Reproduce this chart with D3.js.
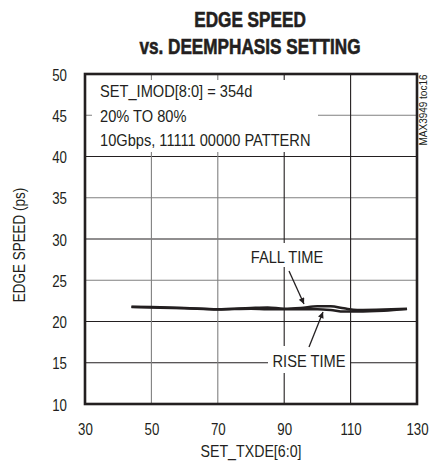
<!DOCTYPE html>
<html>
<head>
<meta charset="utf-8">
<script src="https://cdn.jsdelivr.net/npm/d3@7"></script>
<style>
  body { margin: 0; background: #fff; }
  text { font-family: "Liberation Sans", Arial, sans-serif; fill: #231f20; }
</style>
</head>
<body>
<div id="chart"></div>
<script>
// data
var txde = [44, 50, 60, 70, 80, 85, 90, 95, 100, 104, 108, 112, 120, 127];
var fallTime = [21.8, 21.75, 21.65, 21.5, 21.65, 21.7, 21.55, 21.65, 21.85, 21.85, 21.6, 21.4, 21.45, 21.55];
var riseTime = [21.75, 21.7, 21.6, 21.45, 21.55, 21.5, 21.5, 21.5, 21.5, 21.4, 21.2, 21.2, 21.3, 21.5];
var xTicks = [30, 50, 70, 90, 110, 130];
var yTicks = [10, 15, 20, 25, 30, 35, 40, 45, 50];
var noteLines = ["SET_IMOD[8:0] = 354d", "20% TO 80%", "10Gbps, 11111 00000 PATTERN"];

var W = 429, H = 463;
var pLeft = 85, pRight = 417, pTop = 74, pBottom = 404;
var ink = "#231f20";

var svg = d3.select("#chart").append("svg")
    .attr("width", W)
    .attr("height", H);

var x = d3.scaleLinear().domain([30, 130]).range([pLeft, pRight]);
var y = d3.scaleLinear().domain([10, 50]).range([pBottom, pTop]);

//condensed look: no narrow font installed, so squeeze the glyphs
function squeeze(sel, k){
    sel.each(function(){
        var w = this.getComputedTextLength();
        d3.select(this).attr("textLength", w * k).attr("lengthAdjust", "spacingAndGlyphs");
    });
}

//grid
var gGrid = svg.append("g");
gGrid.selectAll("line.h")
    .data(yTicks.slice(1, -1))
    .enter().append("line")
    .attr("x1", pLeft).attr("x2", pRight)
    .attr("y1", function(d){ return y(d); })
    .attr("y2", function(d){ return y(d); })
    .attr("stroke", function(d){ return d % 10 == 5 && d != 15 ? "#808080" : ink; })
    .attr("stroke-width", 1.1);
gGrid.selectAll("line.v")
    .data(xTicks.slice(1, -1))
    .enter().append("line")
    .attr("y1", pTop).attr("y2", pBottom)
    .attr("x1", function(d){ return x(d); })
    .attr("x2", function(d){ return x(d); })
    .attr("stroke", function(d){ return d < 90 ? "#808080" : ink; })
    .attr("stroke-width", 1.1);

//white boxes behind the notes
svg.append("rect").attr("x", 92).attr("y", 80).attr("width", 226).attr("height", 72).attr("fill", "#fff");
svg.append("rect").attr("x", 257).attr("y", 243).attr("width", 60).attr("height", 24).attr("fill", "#fff");
svg.append("rect").attr("x", 268).attr("y", 346).attr("width", 82).attr("height", 27).attr("fill", "#fff");

//curves
var line = d3.line()
    .x(function(d){ return x(d[0]); })
    .y(function(d){ return y(d[1]); })
    .curve(d3.curveMonotoneX);

[fallTime, riseTime].forEach(function(s){
    svg.append("path")
        .datum(txde.map(function(v, i){ return [v, s[i]]; }))
        .attr("d", line)
        .attr("fill", "none")
        .attr("stroke", ink)
        .attr("stroke-width", 2.5);
});

//frame
svg.append("rect")
    .attr("x", pLeft).attr("y", pTop)
    .attr("width", pRight - pLeft).attr("height", pBottom - pTop)
    .attr("fill", "none")
    .attr("stroke", ink)
    .attr("stroke-width", 2.6);

//axes
var xAxis = svg.append("g")
    .attr("transform", "translate(0," + (pBottom + 31) + ")")
    .call(d3.axisBottom(x).tickValues(xTicks).tickSize(0).tickPadding(0));
xAxis.select(".domain").remove();
xAxis.selectAll("text").attr("dy", 0);

var yAxis = svg.append("g")
    .attr("transform", "translate(67,0)")
    .call(d3.axisLeft(y).tickValues(yTicks).tickSize(0).tickPadding(0));
yAxis.select(".domain").remove();
yAxis.selectAll("text").attr("dy", "0.36em");

svg.selectAll(".tick text")
    .attr("font-size", 17)
    .attr("font-family", "'Liberation Sans', Arial, sans-serif")
    .attr("fill", ink)
    .call(squeeze, 0.78);

//titles
svg.append("text").attr("x", 250).attr("y", 27).attr("text-anchor", "middle")
    .attr("font-size", 22).attr("font-weight", "bold")
    .attr("stroke", ink).attr("stroke-width", 0.6)
    .text("EDGE SPEED")
    .call(squeeze, 0.78);
svg.append("text").attr("x", 250).attr("y", 54).attr("text-anchor", "middle")
    .attr("font-size", 22).attr("font-weight", "bold")
    .attr("stroke", ink).attr("stroke-width", 0.6)
    .text("vs. DEEMPHASIS SETTING")
    .call(squeeze, 0.78);

svg.append("text").attr("x", 251).attr("y", 457).attr("text-anchor", "middle")
    .attr("font-size", 16.5).text("SET_TXDE[6:0]")
    .call(squeeze, 0.86);
svg.append("text").attr("transform", "translate(25,245) rotate(-90)")
    .attr("text-anchor", "middle").attr("font-size", 16).text("EDGE SPEED (ps)")
    .call(squeeze, 0.84);

svg.append("text").attr("transform", "translate(427,110) rotate(-90)")
    .attr("text-anchor", "middle").attr("font-size", 10.5).text("MAX3949 toc16")
    .call(squeeze, 0.95);

//notes
svg.selectAll("text.note")
    .data(noteLines)
    .enter().append("text")
    .attr("class", "note")
    .attr("x", 100)
    .attr("y", function(d, i){ return 97 + i * 24.5; })
    .attr("font-size", 17)
    .text(function(d){ return d; })
    .call(squeeze, 0.86);

svg.append("text").attr("x", 287).attr("y", 263).attr("text-anchor", "middle")
    .attr("font-size", 17).text("FALL TIME")
    .call(squeeze, 0.86);
svg.append("text").attr("x", 309).attr("y", 367).attr("text-anchor", "middle")
    .attr("font-size", 17).text("RISE TIME")
    .call(squeeze, 0.86);

//arrows
svg.append("defs").append("marker")
    .attr("id", "ah").attr("viewBox", "0 0 10 10")
    .attr("refX", 10).attr("refY", 5)
    .attr("markerWidth", 10).attr("markerHeight", 6)
    .attr("markerUnits", "userSpaceOnUse")
    .attr("orient", "auto")
    .append("path").attr("d", "M0,0L10,5L0,10Z").attr("fill", ink);

svg.append("line").attr("x1", 289).attr("y1", 271).attr("x2", 304).attr("y2", 304)
    .attr("stroke", ink).attr("stroke-width", 1.3).attr("marker-end", "url(#ah)");
svg.append("line").attr("x1", 309).attr("y1", 347).attr("x2", 323).attr("y2", 312)
    .attr("stroke", ink).attr("stroke-width", 1.3).attr("marker-end", "url(#ah)");
</script>
</body>
</html>
